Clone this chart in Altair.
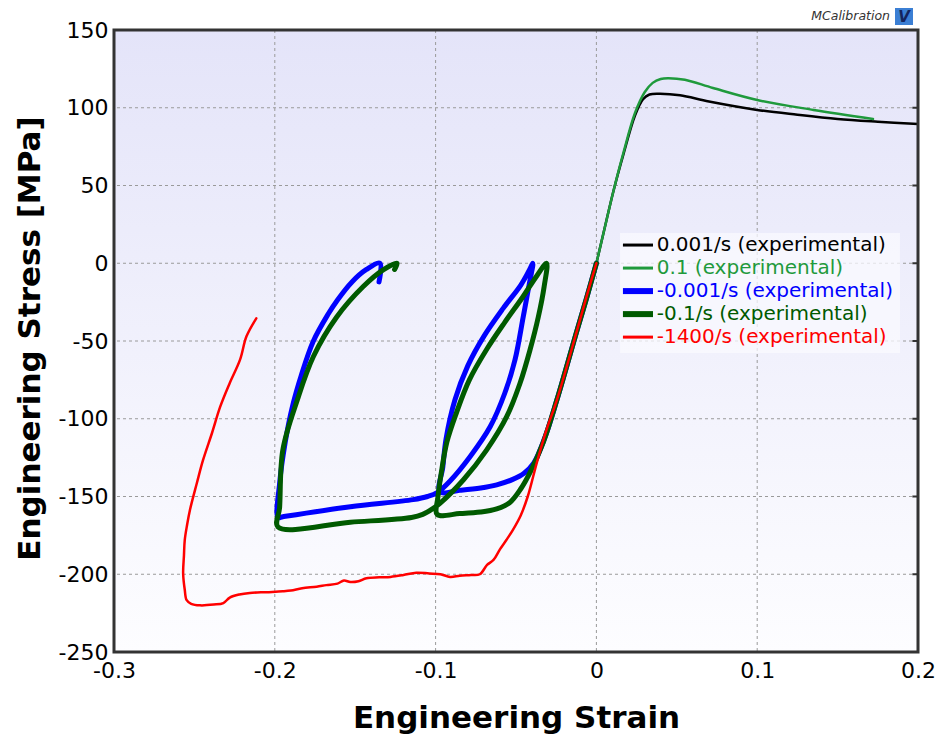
import altair as alt
import pandas as pd

# ---------------- data ----------------
series_names = [
    "0.001/s (experimental)",
    "0.1 (experimental)",
    "-0.001/s (experimental)",
    "-0.1/s (experimental)",
    "-1400/s (experimental)",
]
series_colors = ["#000000", "#1f9a3c", "#0000ff", "#005a00", "#ff0000"]
series_widths = [2.5, 2.5, 5.0, 5.0, 2.5]

black_strain = [0, 0.005, 0.0105, 0.0168, 0.024, 0.029, 0.033, 0.0396, 0.052, 0.07, 0.1, 0.125, 0.15, 0.175, 0.2]
black_stress = [0, 22, 46, 70, 95, 105.5, 108.5, 109, 108, 104, 98.6, 95.5, 92.8, 91, 89.5]

green_strain = [0, 0.005, 0.0105, 0.0168, 0.024, 0.030, 0.035, 0.040, 0.0445, 0.055, 0.0725, 0.1, 0.135, 0.172]
green_stress = [0, 22, 46, 71, 96.6, 110, 116, 118.5, 119, 118, 112.7, 105, 98.6, 92.8]

blue_strain = [0, -0.006, -0.012, -0.0246, -0.032, -0.039, -0.045, -0.052, -0.062, -0.072, -0.085, -0.0973,
               -0.0955, -0.0935, -0.088, -0.080, -0.070, -0.058, -0.047, -0.042, -0.0395,
               -0.0415, -0.0455, -0.0506, -0.057, -0.066, -0.0786, -0.091, -0.099,
               -0.105, -0.114, -0.153, -0.195, -0.198,
               -0.197, -0.1935, -0.189, -0.1835, -0.176, -0.167, -0.161, -0.152, -0.143, -0.1346, -0.1352]
blue_stress = [0, -22, -43, -88, -112, -128.5, -135, -139, -142.5, -144.5, -146, -147,
               -131, -113, -88, -66, -47, -29, -14, -5, 0,
               -12, -34.4, -62, -83.6, -105, -124.4, -140, -147.5,
               -150, -152, -156.6, -163, -163.5,
               -141.5, -115, -92, -72, -50, -33, -23.6, -12, -4, 0, -12]

dgreen_strain = [0, -0.006, -0.012, -0.0246, -0.033, -0.041, -0.047, -0.054, -0.062, -0.072, -0.085, -0.099,
                 -0.0985, -0.0965, -0.093, -0.087, -0.079, -0.068, -0.057, -0.046, -0.037, -0.031,
                 -0.0325, -0.0361, -0.0413, -0.0475, -0.0558, -0.0682, -0.0828, -0.0973, -0.102,
                 -0.108, -0.115, -0.153, -0.198,
                 -0.197, -0.195, -0.186, -0.176, -0.1615, -0.145, -0.1326, -0.124, -0.1255]
dgreen_stress = [0, -22, -43, -88, -115, -134, -145, -154, -158, -160, -161, -161.5,
                 -150, -135, -115, -96, -75, -55, -38, -22, -8, 0,
                 -15, -34.4, -55.8, -77.2, -98.7, -120, -139.4, -154.4, -158,
                 -161.5, -163.5, -166.5, -169.6,
                 -157, -120, -88, -60, -34.6, -15, -4.3, 0, -4]

red_strain = [0, -0.006, -0.012, -0.0246, -0.031, -0.037, -0.0427, -0.047, -0.052, -0.056, -0.060, -0.064,
              -0.068, -0.0725, -0.078, -0.085, -0.091, -0.097, -0.104, -0.112, -0.12, -0.128, -0.135,
              -0.143, -0.148, -0.153, -0.157, -0.161, -0.168, -0.174, -0.183, -0.19, -0.195, -0.205,
              -0.2155, -0.222, -0.228, -0.232, -0.238, -0.2465, -0.252, -0.2548, -0.256, -0.257,
              -0.2565, -0.256, -0.2545, -0.2528, -0.2485, -0.2446, -0.239, -0.234, -0.228, -0.2216,
              -0.2176, -0.2115]
red_stress = [0, -21, -43, -88, -107, -128, -150, -162, -171.6, -178, -184, -190.8,
              -194, -200, -200.5, -201, -201.7, -200, -199.5, -199, -200.5, -201.7, -202,
              -202.6, -204.5, -205, -204, -206, -207, -208, -209, -210.5, -211, -211.5,
              -212, -213, -215, -218.5, -219.5, -220, -219, -216.7, -210, -199.5,
              -188, -178, -168, -158.8, -141.5, -126.5, -109, -92.4, -77, -62,
              -47, -35.4]

x_domain = [-0.3, 0.2]
y_domain = [-250, 150]
x_ticks = [-0.3, -0.2, -0.1, 0, 0.1, 0.2]
y_ticks = [-250, -200, -150, -100, -50, 0, 50, 100, 150]

all_strain = [black_strain, green_strain, blue_strain, dgreen_strain, red_strain]
all_stress = [black_stress, green_stress, blue_stress, dgreen_stress, red_stress]

# ---------------- scales / axes ----------------
FONT = "DejaVu Sans"
MINUS = "\u2212"
xscale = alt.Scale(domain=x_domain, nice=False, zero=False)
yscale = alt.Scale(domain=y_domain, nice=False, zero=False)

xaxis = alt.Axis(
    values=x_ticks, format="~g", labelExpr=f"replace(datum.label, '{MINUS}', '-')",
    title="Engineering Strain", grid=False,
    ticks=False, domain=False, labelFontSize=22, labelFont=FONT, labelColor="#000000",
    labelPadding=8, labelFlush=False, labelOverlap=False, labelBound=False,
    titleFont=FONT, titleFontSize=31, titleFontWeight="bold", titleColor="#000000",
    titleY=66, titleBaseline="middle",
)
yaxis = alt.Axis(
    values=y_ticks, format="d", labelExpr=f"replace(datum.label, '{MINUS}', '-')",
    title="Engineering Stress [MPa]", grid=False,
    ticks=False, domain=False, labelFontSize=22, labelFont=FONT, labelColor="#000000",
    labelPadding=6, labelFlush=False, labelOverlap=False, labelBound=False,
    titleFont=FONT, titleFontSize=31, titleFontWeight="bold", titleColor="#000000",
    titleX=-84, titleY=308, titleAngle=270, titleAlign="center", titleBaseline="middle",
)


def X(field):
    return alt.X(field, scale=xscale, axis=xaxis)


def Y(field):
    return alt.Y(field, scale=yscale, axis=yaxis)


# ---------------- background ----------------
bg_df = pd.DataFrame({"x0": [x_domain[0]], "x1": [x_domain[1]], "y0": [y_domain[0]], "y1": [y_domain[1]]})
gradient = alt.LinearGradient(
    gradient="linear",
    stops=[alt.GradientStop(color="#e4e4f9", offset=0), alt.GradientStop(color="#fdfdff", offset=1)],
    x1=0, x2=0, y1=0, y2=1,
)
bg = alt.Chart(bg_df).mark_rect(fill=gradient).encode(
    x=X("x0:Q"), x2="x1:Q", y=Y("y0:Q"), y2="y1:Q",
)

layers = [bg]

# ---------------- grid lines ----------------
gx = pd.DataFrame({"x0": x_ticks})
gy = pd.DataFrame({"y0": y_ticks})
layers.append(
    alt.Chart(gx).mark_rule(color="#9a9a9a", strokeWidth=1, strokeDash=[3, 3]).encode(x=X("x0:Q"))
)
layers.append(
    alt.Chart(gy).mark_rule(color="#9a9a9a", strokeWidth=1, strokeDash=[3, 3]).encode(y=Y("y0:Q"))
)

# ---------------- legend box ----------------
leg_x_line0 = 0.0165
leg_x_line1 = 0.0352
leg_x_text = 0.0375
leg_top = 11.7
leg_step = 14.8
leg_box = pd.DataFrame({"x0": [0.0147], "x1": [0.1888], "y0": [19.5], "y1": [-57.7]})
layers.append(
    alt.Chart(leg_box).mark_rect(fill="#fafaff", fillOpacity=0.75).encode(
        x=X("x0:Q"), x2="x1:Q", y=Y("y0:Q"), y2="y1:Q",
    )
)

# ---------------- curves ----------------
for name, col, w, xs, ys in zip(series_names, series_colors, series_widths, all_strain, all_stress):
    df = pd.DataFrame({"x0": xs, "y0": ys, "idx": list(range(len(xs)))})
    layers.append(
        alt.Chart(df).mark_line(color=col, strokeWidth=w, clip=True, strokeJoin="round",
                                strokeCap="round", interpolate="catmull-rom").encode(
            x=X("x0:Q"), y=Y("y0:Q"), order="idx:Q",
        )
    )

# ---------------- legend entries ----------------
for i, (name, col, w) in enumerate(zip(series_names, series_colors, series_widths)):
    yy = leg_top - i * leg_step
    ldf = pd.DataFrame({"x0": [leg_x_line0], "x1": [leg_x_line1], "xt": [leg_x_text], "y0": [yy], "label": [name]})
    layers.append(
        alt.Chart(ldf).mark_rule(color=col, strokeWidth=w * 1.2).encode(
            x=X("x0:Q"), x2="x1:Q", y=Y("y0:Q"),
        )
    )
    layers.append(
        alt.Chart(ldf).mark_text(color=col, font=FONT, fontSize=20, align="left", baseline="middle").encode(
            x=X("xt:Q"), y=Y("y0:Q"), text="label:N",
        )
    )

# ---------------- right-edge inner ticks ----------------
rt = pd.DataFrame({"y0": y_ticks, "x0": [x_domain[1] - 0.0035] * len(y_ticks), "x1": [x_domain[1]] * len(y_ticks)})
layers.append(
    alt.Chart(rt).mark_rule(color="#333333", strokeWidth=2).encode(x=X("x0:Q"), x2="x1:Q", y=Y("y0:Q"))
)

# ---------------- frame ----------------
layers.append(
    alt.Chart(bg_df).mark_rect(fillOpacity=0, stroke="#333333", strokeWidth=3).encode(
        x=X("x0:Q"), x2="x1:Q", y=Y("y0:Q"), y2="y1:Q",
    )
)

# ---------------- watermark ----------------
wm = pd.DataFrame({"t": ["MCalibration"], "v": ["V"]})
layers.append(
    alt.Chart(wm).mark_text(font=FONT, fontSize=12.5, fontStyle="italic", color="#333333",
                            align="right", baseline="middle").encode(
        x=alt.value(776), y=alt.value(-14), text="t:N")
)
layers.append(
    alt.Chart(wm).mark_rect(color="#3b7fd4").encode(
        x=alt.value(781), x2=alt.value(799), y=alt.value(-22), y2=alt.value(-5))
)
layers.append(
    alt.Chart(wm).mark_text(font=FONT, fontSize=15, fontStyle="italic", fontWeight="bold", color="#14245e",
                            align="center", baseline="middle").encode(
        x=alt.value(790), y=alt.value(-13), text="v:N")
)

chart = alt.layer(*layers).properties(
    width=804,
    height=622,
    autosize=alt.AutoSizeParams(type="none"),
    padding={"left": 114, "top": 30, "right": 20, "bottom": 89},
    background="#ffffff",
).configure_view(stroke=None)

chart.save("out.html", embed_options={"renderer": "svg", "actions": False})
